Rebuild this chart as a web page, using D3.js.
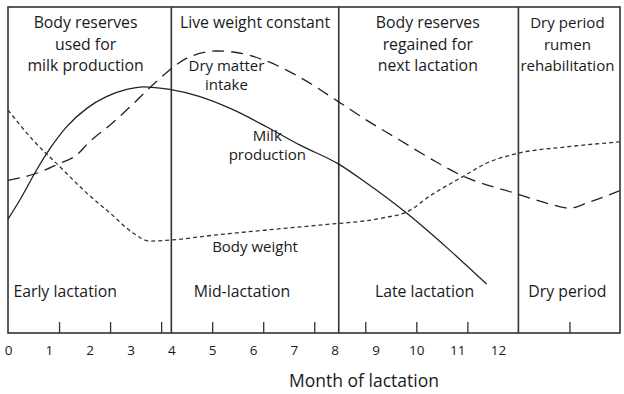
<!DOCTYPE html>
<html>
<head>
<meta charset="utf-8">
<script src="https://cdn.jsdelivr.net/npm/d3@7"></script>
<style>
    body { margin: 0; background: #fff; }
    #chart text { font-family: "Open Sans", sans-serif; fill: #1a1a1a; }
</style>
</head>
<body>
<div id="chart"></div>
<script>
// month values on the x axis
let monthLabels = [0, 1, 2, 3, 4, 5, 6, 7, 8, 9, 10, 11, 12];
let minorTicks = [1.25, 2.5, 3.75, 5, 6.25, 7.5, 8.75, 10, 11.25, 13.75];
let dividers = [4, 8.1, 12.5];

let periodTop = [
    {m: 1.9, lines: ["Body reserves", "used for", "milk production"]},
    {m: 6.05, lines: ["Live weight constant"]},
    {m: 10.28, lines: ["Body reserves", "regained for", "next lactation"]},
    {m: 13.7, lines: ["Dry period", "rumen", "rehabilitation"]}
];
let periodBottom = [
    {m: 1.4, label: "Early lactation"},
    {m: 5.73, label: "Mid-lactation"},
    {m: 10.2, label: "Late lactation"},
    {m: 13.7, label: "Dry period"}
];

// relative level (0 = bottom, 100 = top of frame)
let milk = [[0, 34.9], [0.29, 40.8], [0.7, 50], [1.03, 56.6], [1.44, 63.3], [1.93, 68.9], [2.41, 72.5],
    [2.91, 74.7], [3.31, 75.5], [3.96, 74.7], [4.7, 72.5], [5.51, 68.5], [6.34, 63.2], [7.14, 57.7],
    [8.1, 51.8], [8.78, 46], [9.76, 36.8], [10.81, 25.5], [11.72, 15]];
let dryMatter = [[0, 46.8], [0.7, 49], [1.22, 51.8], [1.68, 54.6], [2.0, 58.7], [2.5, 63.8],
    [2.99, 69.4], [3.47, 75.2], [3.96, 80.7], [4.38, 84.3], [5.11, 86.5], [5.51, 86.2], [6.34, 83.4],
    [7.14, 78.5], [8.1, 70.9], [8.78, 65.3], [9.59, 59.2], [10.4, 53.1], [11.13, 48.2], [12.41, 42.9],
    [13.26, 39.6], [13.75, 38.3], [14.24, 40.2], [14.97, 43.6]];
let bodyWeight = [[0, 68.4], [0.61, 59.2], [1.27, 51], [1.93, 42.9], [2.5, 36.8], [3.06, 30.7],
    [3.47, 28.2], [3.96, 28.5], [5.11, 30.1], [6.34, 31.6], [7.63, 33.1], [9.18, 35.3], [9.76, 37.1],
    [10.4, 42.6], [11.13, 47.9], [11.72, 52.1], [12.41, 54.9], [13.68, 57.1], [14.97, 58.6]];

let curveLabels = [
    {m: 5.35, v: 80.5, lines: ["Dry matter", "intake"]},
    {m: 6.35, v: 59, lines: ["Milk", "production"]},
    {m: 6.05, v: 25, lines: ["Body weight"]}
];

let width = 624, height = 394;
let frame = {left: 8, right: 620, top: 7, bottom: 333};

let svg = d3.select("#chart").append("svg")
    .attr("width", width)
    .attr("height", height);

let x = d3.scaleLinear().domain([0, 15]).range([frame.left, frame.right + 0.5]);
let y = d3.scaleLinear().domain([0, 100]).range([frame.bottom, frame.top]);

// minor ticks pointing up from the bottom line
svg.append("g")
    .attr("transform", `translate(0, ${frame.bottom})`)
    .call(d3.axisBottom(x).tickValues(minorTicks).tickSize(-11).tickFormat(""))
    .call(g => g.select(".domain").remove())
    .call(g => g.selectAll("line").attr("stroke", "#333").attr("stroke-width", 1.3));

// month labels
svg.append("g")
    .attr("transform", `translate(0, ${frame.bottom})`)
    .call(d3.axisBottom(x).tickValues(monthLabels).tickSize(0).tickPadding(12).tickFormat(d3.format("d")))
    .call(g => g.select(".domain").remove())
    .call(g => g.selectAll("text").style("font-size", "13.5px").attr("fill", "#1a1a1a"));

svg.append("text")
    .attr("x", 364)
    .attr("y", 387)
    .attr("text-anchor", "middle")
    .style("font-size", "17.5px")
    .text("Month of lactation");

// frame and dividers
svg.append("rect")
    .attr("x", frame.left)
    .attr("y", frame.top)
    .attr("width", frame.right - frame.left)
    .attr("height", frame.bottom - frame.top)
    .attr("fill", "none")
    .attr("stroke", "#333")
    .attr("stroke-width", 1.6);

svg.selectAll(".divider")
    .data(dividers)
    .enter().append("line")
    .attr("class", "divider")
    .attr("x1", d => x(d)).attr("x2", d => x(d))
    .attr("y1", frame.top).attr("y2", frame.bottom)
    .attr("stroke", "#333")
    .attr("stroke-width", 1.6);

// period texts, shrunk a little if a line would touch the dividers
let edges = [0].concat(dividers, [15]);
periodTop.forEach(function(p, k) {
    let size = 15.8;
    let t = svg.append("text")
        .attr("text-anchor", "middle")
        .style("font-size", size + "px");
    p.lines.forEach(function(l, i) {
        t.append("tspan")
            .attr("x", x(p.m))
            .attr("y", 28 + i * 21.5)
            .text(l);
    });
    let room = x(edges[k + 1]) - x(edges[k]) - 8;
    let widest = t.node().getBBox().width;
    if (widest > room) t.style("font-size", (size * room / widest) + "px");
});

svg.selectAll(".period-bottom")
    .data(periodBottom)
    .enter().append("text")
    .attr("class", "period-bottom")
    .attr("x", d => x(d.m))
    .attr("y", 297)
    .attr("text-anchor", "middle")
    .style("font-size", "15.8px")
    .text(d => d.label);

// curves
let line = d3.line()
    .x(d => x(d[0]))
    .y(d => y(d[1]))
    .curve(d3.curveMonotoneX);

svg.append("path")
    .datum(milk)
    .attr("d", line)
    .attr("fill", "none")
    .attr("stroke", "#222")
    .attr("stroke-width", 1.3);

svg.append("path")
    .datum(dryMatter)
    .attr("d", line)
    .attr("fill", "none")
    .attr("stroke", "#222")
    .attr("stroke-width", 1.3)
    .attr("stroke-dasharray", "12,7");

svg.append("path")
    .datum(bodyWeight)
    .attr("d", line)
    .attr("fill", "none")
    .attr("stroke", "#333")
    .attr("stroke-width", 1.3)
    .attr("stroke-dasharray", "4,3");

// curve labels
curveLabels.forEach(function(c) {
    let t = svg.append("text")
        .attr("text-anchor", "middle")
        .style("font-size", "15px");
    c.lines.forEach(function(l, i) {
        t.append("tspan")
            .attr("x", x(c.m))
            .attr("y", y(c.v) + i * 19)
            .text(l);
    });
});
</script>
</body>
</html>
